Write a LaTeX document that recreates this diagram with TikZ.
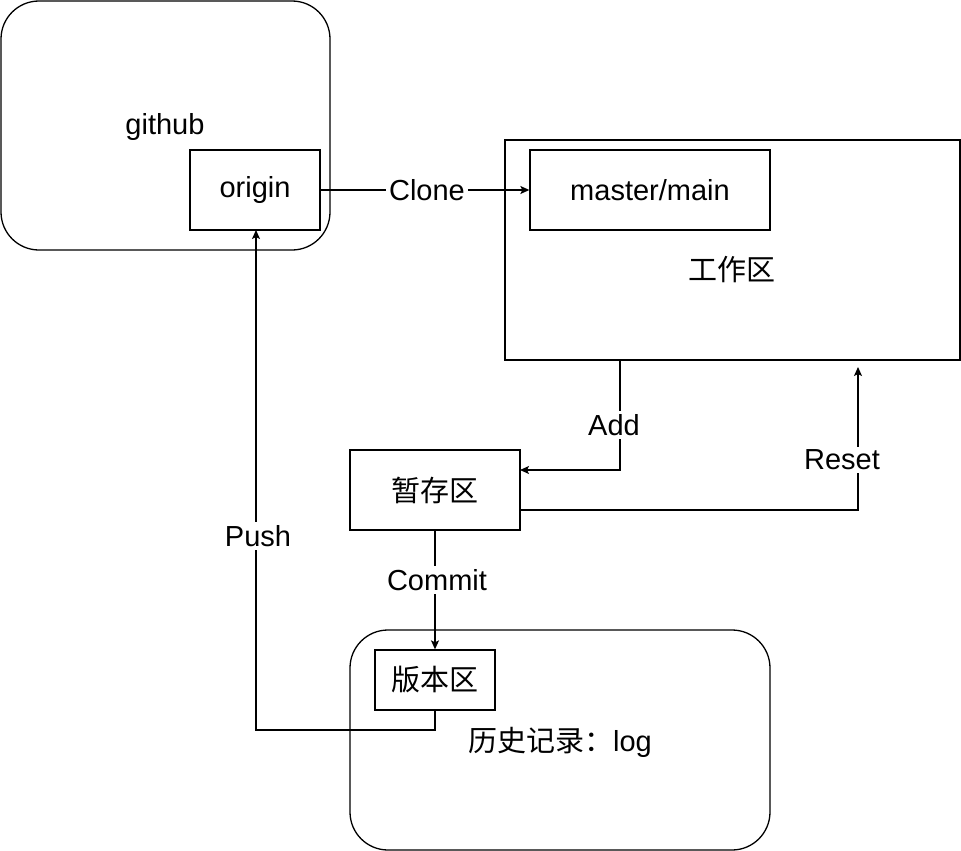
\documentclass[tikz,border=0pt]{standalone}
\usepackage{fontspec}
\setmainfont{Liberation Sans}
\newfontfamily\cjk{Noto Sans CJK SC}
\usetikzlibrary{arrows.meta}
\begin{document}
\begin{tikzpicture}[x=1pt,y=-1pt,
  every node/.style={font=\fontsize{29}{34}\selectfont, inner sep=0pt},
  box/.style={draw, line width=1.3pt, rectangle},
  rbox/.style={draw, line width=1.3pt, rectangle, rounded corners=38pt},
  conn/.style={line width=1.3pt, -{Stealth[length=9pt,width=8pt,inset=2pt]}},
  plain/.style={line width=1.3pt},
  lbl/.style={fill=white, inner sep=3pt}]
\useasboundingbox (0,0) rectangle (961,851);
\fill[white] (0,0) rectangle (961,851);
% containers
\node[rbox, minimum width=329pt, minimum height=249pt] (github) at (165.5,125.5) {};
\node (githublbl) at (165,127) {github};
\node[box, minimum width=130pt, minimum height=80pt, fill=white] (origin) at (255,190) {origin};
\node[box, minimum width=455pt, minimum height=220pt] (work) at (732.5,250) {};
\node (worklbl) at (732,270) {\cjk 工作区};
\node[box, minimum width=240pt, minimum height=80pt] (master) at (650,190) {master/main};
\node[box, minimum width=170pt, minimum height=80pt] (stage) at (435,490) {\cjk 暂存区};
\node[rbox, minimum width=420pt, minimum height=220pt] (hist) at (560,740) {};
\node (histlbl) at (560,742) {{\cjk 历史记录：}log};
\node[box, minimum width=120pt, minimum height=60pt, fill=white] (repo) at (435,680) {\cjk 版本区};
% coordinates
\coordinate (addtop) at (620,360);
\coordinate (addin) at (520,470);
\coordinate (resout) at (520,510);
\coordinate (restop) at (858,367);
\coordinate (pushbot) at (435,710);
\coordinate (pushin) at (256,230);
% connectors
\draw[conn] (origin.east) -- (master.west);
\node[lbl] (clonelbl) at (427,190) {Clone};
\draw[conn] (addtop) |- (addin);
\node[lbl] (addlbl) at (614,425) {Add};
\draw[conn] (resout) -| (restop);
\node[lbl] (reslbl) at (842,460) {Reset};
\draw[conn] (stage.south) -- (repo.north);
\node[lbl] (commitlbl) at (437,580) {Commit};
\draw[conn] (pushbot) -- (435,730) -| (pushin);
\node[lbl] (pushlbl) at (258,536) {Push};
\end{tikzpicture}
\end{document}
